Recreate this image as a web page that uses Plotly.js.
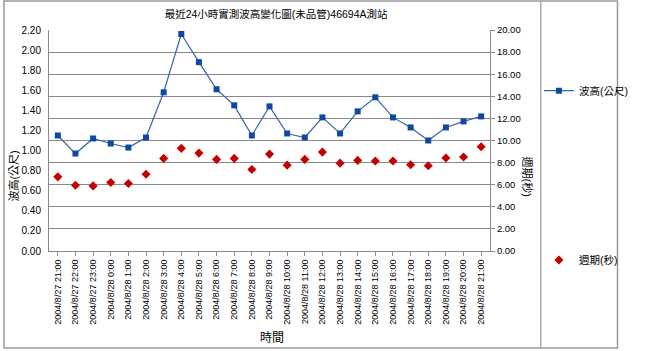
<!DOCTYPE html>
<html>
<head>
<meta charset="utf-8">
<script src="https://cdn.plot.ly/plotly-3.0.1.min.js"></script>
<style>html,body{margin:0;padding:0;background:#fff;}#chart{width:645px;height:351px;}</style>
</head>
<body>
<div id="chart"></div>
<script>
const times = [
  "2004/8/27 21:00","2004/8/27 22:00","2004/8/27 23:00","2004/8/28 0:00","2004/8/28 1:00",
  "2004/8/28 2:00","2004/8/28 3:00","2004/8/28 4:00","2004/8/28 5:00","2004/8/28 6:00",
  "2004/8/28 7:00","2004/8/28 8:00","2004/8/28 9:00","2004/8/28 10:00","2004/8/28 11:00",
  "2004/8/28 12:00","2004/8/28 13:00","2004/8/28 14:00","2004/8/28 15:00","2004/8/28 16:00",
  "2004/8/28 17:00","2004/8/28 18:00","2004/8/28 19:00","2004/8/28 20:00","2004/8/28 21:00"
];
const waveHeight = [1.15,0.97,1.12,1.07,1.03,1.13,1.58,2.16,1.88,1.61,1.45,1.15,1.44,1.17,1.13,1.33,1.17,1.39,1.53,1.33,1.23,1.10,1.23,1.29,1.34];
const wavePeriod = [6.71,5.95,5.89,6.20,6.11,6.95,8.38,9.29,8.86,8.29,8.38,7.38,8.77,7.77,8.29,8.95,7.95,8.20,8.14,8.14,7.80,7.71,8.41,8.50,9.44];
const leftTicks = [0,0.2,0.4,0.6,0.8,1.0,1.2,1.4,1.6,1.8,2.0,2.2];
const rightTicks = [0,2,4,6,8,10,12,14,16,18,20];

const FONT = "Liberation Sans, Arial, Noto Sans CJK TC, sans-serif";
const GRID = "#8a8a8a";

const traces = [
  {
    x: times, y: waveHeight, name: "波高(公尺)", type: "scatter", mode: "lines+markers",
    line: {color: "#3a64a8", width: 1.2},
    marker: {symbol: "square", size: 6, color: "#0f48a3"},
    yaxis: "y", legend: "legend", showlegend: true
  },
  {
    x: times, y: wavePeriod, name: "週期(秒)", type: "scatter", mode: "markers",
    marker: {symbol: "diamond", size: 7, color: "#c40000"},
    yaxis: "y2", legend: "legend2", showlegend: true
  }
];

const layout = {
  width: 645, height: 351,
  showlegend: true,
  margin: {l: 49, r: 136, t: 30, b: 100, pad: 0},
  paper_bgcolor: "#fff", plot_bgcolor: "#fff",
  font: {family: FONT, color: "#000", size: 10},
  title: {text: "最近24小時實測波高變化圖(未品管)46694A測站", font: {size: 10.5, family: FONT, color: "#000"},
          xref: "paper", x: 0.515, xanchor: "center", yref: "container", y: 0.96, yanchor: "middle"},
  hovermode: false,
  xaxis: {
    type: "category", range: [-0.5, 24.5], showgrid: false, zeroline: false,
    showline: true, linecolor: GRID, linewidth: 1,
    ticks: "outside", ticklen: 4, tickcolor: GRID, tickangle: -90,
    tickfont: {size: 9, family: FONT, color: "#000"}
  },
  yaxis: {
    range: [0, 2.2], tickvals: leftTicks, tickformat: ".2f", showgrid: false, zeroline: false,
    showline: true, linecolor: GRID, linewidth: 1, ticks: "", ticklabelstandoff: 5,
    tickfont: {size: 10, family: FONT, color: "#000"}
  },
  yaxis2: {
    range: [0, 20], tickvals: rightTicks, tickformat: ".2f", overlaying: "y", side: "right",
    showgrid: true, gridcolor: GRID, gridwidth: 1, zeroline: false,
    showline: true, linecolor: GRID, linewidth: 1, ticks: "outside", ticklen: 4, tickcolor: GRID,
    tickfont: {size: 9.5, family: FONT, color: "#000"}
  },
  legend: {x: 1.1109, xanchor: "left", y: 0.7253, yanchor: "middle", font: {size: 10.5, family: FONT}, bgcolor: "rgba(0,0,0,0)", itemwidth: 30},
  legend2: {x: 1.1109, xanchor: "left", y: -0.0407, yanchor: "middle", font: {size: 10.5, family: FONT}, bgcolor: "rgba(0,0,0,0)", itemwidth: 30},
  annotations: [
    {text: "波高(公尺)", xref: "paper", yref: "paper", x: -0.0804, y: 0.339, xanchor: "center", yanchor: "middle", textangle: -90, showarrow: false, font: {size: 11, family: FONT}},
    {text: "週期(秒)", xref: "paper", yref: "paper", x: 1.0848, y: 0.335, xanchor: "center", yanchor: "middle", textangle: 90, showarrow: false, font: {size: 11, family: FONT}},
    {text: "時間", xref: "paper", yref: "paper", x: 0.5065, y: -0.392, xanchor: "center", yanchor: "middle", showarrow: false, font: {size: 12, family: FONT}}
  ],
  shapes: [
    {type: "rect", xref: "paper", yref: "paper", x0: -0.1022, x1: 1.2891, y0: -0.4389, y1: 1.1312, line: {color: "#9a9a9a", width: 1.5}, layer: "below"},
    {type: "line", xref: "paper", yref: "paper", x0: 1.1152, x1: 1.1152, y0: -0.4389, y1: 1.1312, line: {color: "#9a9a9a", width: 1.2}, layer: "below"}
  ]
};

Plotly.newPlot("chart", traces, layout, {staticPlot: true, displayModeBar: false});
</script>
</body>
</html>
